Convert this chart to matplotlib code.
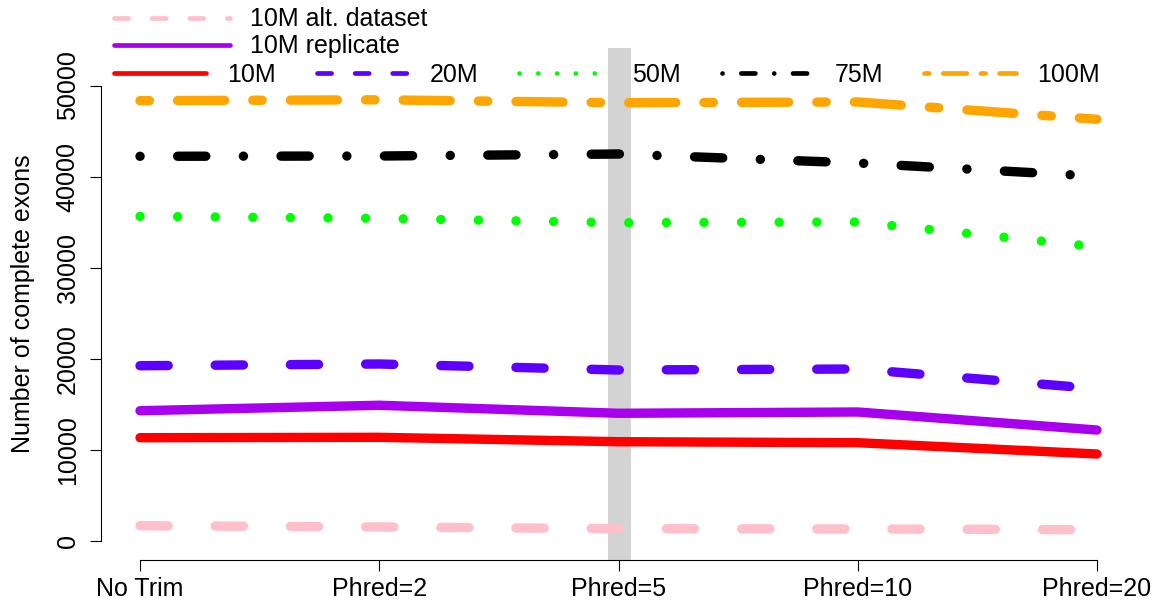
import matplotlib
matplotlib.use("Agg")
import matplotlib.pyplot as plt
from matplotlib.lines import Line2D

plt.rcParams['font.family'] = ['Liberation Sans', 'DejaVu Sans']
plt.rcParams['font.size'] = 18

W, H = 1156, 606

# data
trims = ["No Trim", "Phred=2", "Phred=5", "Phred=10", "Phred=20"]
xpos = [1, 2, 3, 4, 5]
alt10 = [1680, 1540, 1350, 1320, 1240]
rep10 = [14300, 14900, 14020, 14160, 12180]
m10 = [11340, 11380, 10900, 10790, 9550]
m20 = [19240, 19430, 18770, 18880, 16720]
m50 = [35640, 35420, 34940, 35020, 32290]
m75 = [42230, 42260, 42480, 41490, 40040]
m100 = [48330, 48430, 48110, 48190, 46290]
yticks = [0, 10000, 20000, 30000, 40000, 50000]

# R-like line types (in units of line width, round caps)
SOLID = '-'
DASHED = (0, (3, 5))
DOTTED = (0, (0.01, 3.99))
DOTDASH = (0, (0.01, 3.99, 3, 4))
TWODASH = (0, (1, 3, 5, 3))

series = [
    ("10M alt. dataset", alt10, "pink", DASHED),
    ("10M replicate", rep10, "#A800EE", SOLID),
    ("10M", m10, "red", SOLID),
    ("20M", m20, "#5E00FF", DASHED),
    ("50M", m50, "#00FF00", DOTTED),
    ("75M", m75, "black", DOTDASH),
    ("100M", m100, "orange", TWODASH),
]

LW = 9.4 * 0.72   # plot lines, ~9.4 px
LW_LEG = 4.7 * 0.72

fig = plt.figure(figsize=(W / 100, H / 100), dpi=100)
L, R, T, B = 100.5, 1135.3, 48, 560
ax = fig.add_axes([L / W, (H - B) / H, (R - L) / W, (B - T) / H])
ax.set_xlim(1 - (140 - L) / 239.25, 5 + (R - 1097) / 239.25)
ax.set_ylim(-(B - 541) / 455.5 * 50000, (541 - T) / 455.5 * 50000)

# grey marker at Phred=5
ax.axvline(3, color='#D3D3D3', lw=23 * 0.72, zorder=0.5)

for label, vals, col, ls in series:
    ax.plot(xpos, vals, color=col, lw=LW, linestyle=ls,
            solid_capstyle='round', dash_capstyle='round', zorder=2)

for s in ['top', 'right']:
    ax.spines[s].set_visible(False)
ax.spines['left'].set_bounds(0, 50000)
ax.spines['bottom'].set_bounds(1, 5)
for s in ['left', 'bottom']:
    ax.spines[s].set_linewidth(0.8)

ax.set_xticks(xpos)
ax.set_xticklabels(trims)
ax.set_yticks(yticks)
ax.set_yticklabels([str(v) for v in yticks], rotation=90, va='center')
ax.tick_params(axis='both', direction='out', length=8, width=0.8, labelsize=18)
ax.tick_params(axis='x', pad=4.5)
ax.tick_params(axis='y', pad=7)
ax.set_ylabel("Number of complete exons", fontsize=18)
ax.yaxis.set_label_coords((35 - L) / (R - L), 0.5)


# legend drawn in pixel positions like R's legend()
def px(xp, yp):
    return xp / W, 1 - yp / H


def legend_entry(x0, x1, y, tx, s):
    label, vals, col, ls = s
    (fx0, fy), (fx1, _) = px(x0 + 2.35, y), px(x1 - 2.35, y)
    fig.add_artist(Line2D([fx0, fx1], [fy, fy], transform=fig.transFigure,
                          color=col, lw=LW_LEG, linestyle=ls,
                          solid_capstyle='round', dash_capstyle='round'))
    fx, fty = px(tx, y + 1.5)
    fig.text(fx, fty, label, ha='left', va='center', fontsize=18)


legend_entry(112, 232, 18, 250.3, series[0])
legend_entry(112, 232, 45, 250.3, series[1])
for i, s in enumerate(series[2:]):
    start = 112 + 202.5 * i
    legend_entry(start, start + 96, 73, start + 115.5, s)

fig.savefig("out.png", dpi=100)
